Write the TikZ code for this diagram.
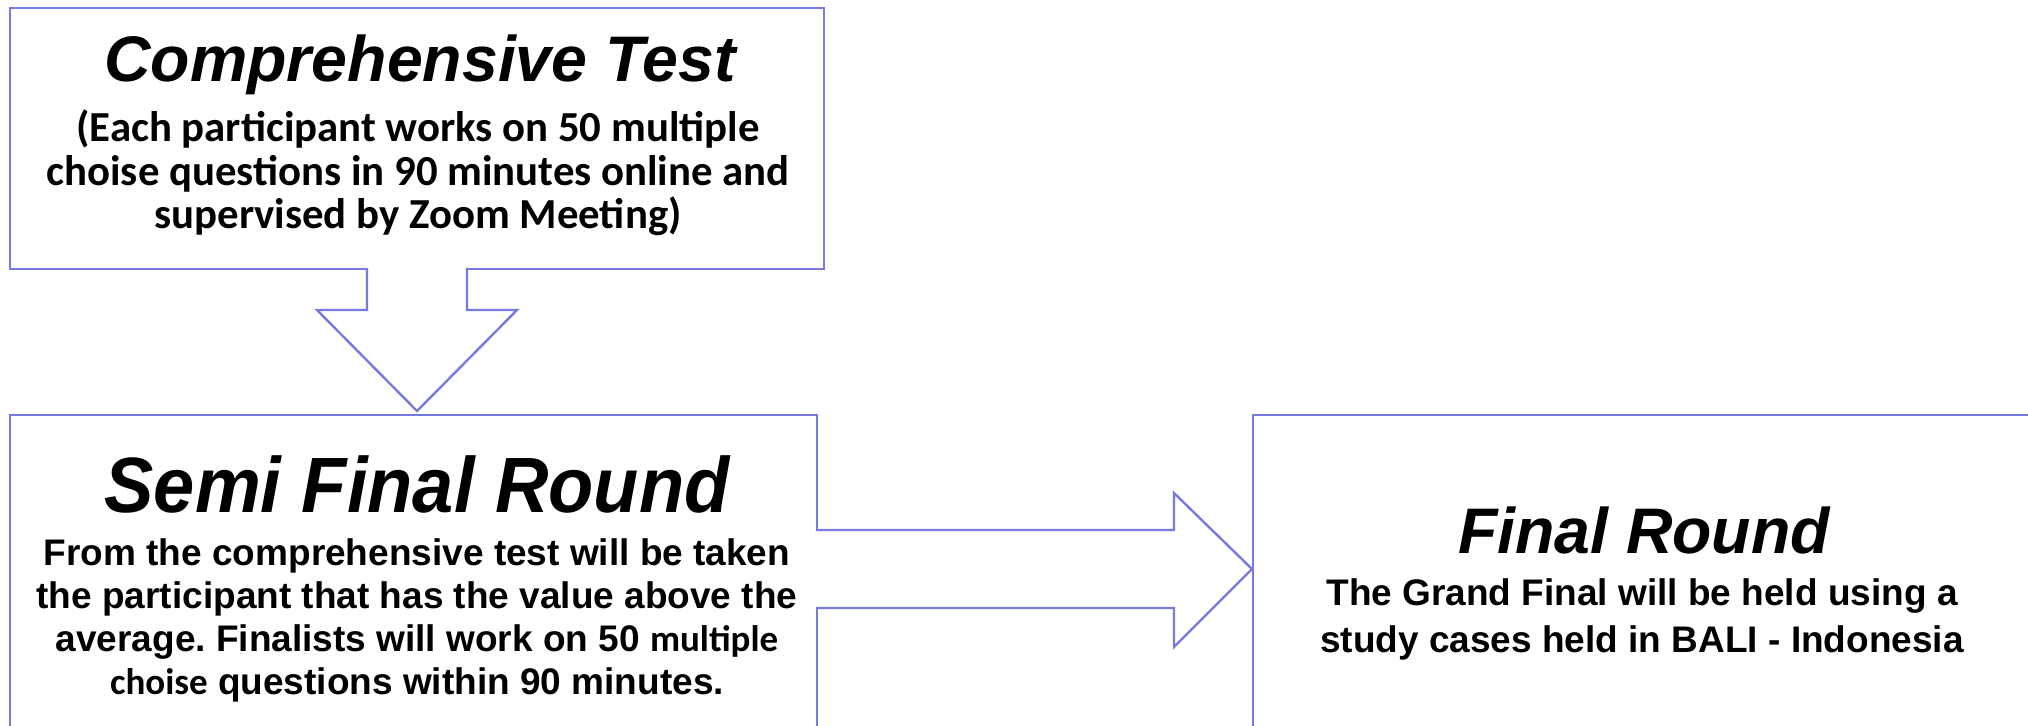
\documentclass[tikz,border=0pt]{standalone}
\usepackage{fontspec}
\usepackage{graphicx}
\setmainfont{Liberation Sans}
\newfontfamily\carl{Carlito}
\usetikzlibrary{calc}
\definecolor{bord}{RGB}{118,122,226}
\frenchspacing
\begin{document}
\begin{tikzpicture}[x=0.5pt,y=-0.5pt,
  box/.style={draw=bord, line width=1.2pt, inner sep=0pt, outer sep=0pt, anchor=north west},
  arrowfill/.style={fill=white, draw=none},
  arrowline/.style={draw=bord, line width=1.2pt, line join=miter},
  ttl/.style={font=\fontsize{32.2}{36}\selectfont\bfseries\itshape, inner sep=0pt, anchor=base},
  bodyA/.style={font=\fontsize{18.5}{22}\selectfont\bfseries, inner sep=0pt, anchor=base},
  bodyC/.style={font=\carl\fontsize{21.4}{24}\selectfont\bfseries, inner sep=0pt, anchor=base}]
\useasboundingbox (0,0) rectangle (2028,725);
\clip (0,0) rectangle (2028,725);
% boxes
\node[box, minimum width=407pt, minimum height=130.5pt] (b1) at (10,8) {};
\node[box, minimum width=403.5pt, minimum height=172.5pt] (b2) at (10,415) {};
\node[box, minimum width=403.5pt, minimum height=172.5pt] (b3) at (1253,415) {};
% down block arrow
\coordinate (dtip) at ($(b1.south |- b2.north)+(0,-4)$);
\fill[arrowfill] ($(b1.south)+(-50,-3)$) -- ($(b1.south)+(-50,41)$) -- ($(b1.south)+(-100,41)$) -- (dtip)
  -- ($(b1.south)+(100,41)$) -- ($(b1.south)+(50,41)$) -- ($(b1.south)+(50,-3)$) -- cycle;
\draw[arrowline] ($(b1.south)+(-50,-1.2)$) -- ($(b1.south)+(-50,41)$) -- ($(b1.south)+(-100,41)$) -- (dtip)
  -- ($(b1.south)+(100,41)$) -- ($(b1.south)+(50,41)$) -- ($(b1.south)+(50,-1.2)$);
% right block arrow
\coordinate (rtip) at ($(b3.north west)+(-1,154)$);
\fill[arrowfill] ($(b2.north east)+(-3,115)$) -- ($(rtip)+(-78,-39)$) -- ($(rtip)+(-78,-76)$) -- (rtip)
  -- ($(rtip)+(-78,78)$) -- ($(rtip)+(-78,39)$) -- ($(b2.north east)+(-3,193)$) -- cycle;
\draw[arrowline] ($(b2.north east)+(-1.2,115)$) -- ($(rtip)+(-78,-39)$) -- ($(rtip)+(-78,-76)$) -- (rtip)
  -- ($(rtip)+(-78,78)$) -- ($(rtip)+(-78,39)$) -- ($(b2.north east)+(-1.2,193)$);
% box 1 text
\node[ttl] (t1) at (420,81) {Comprehensive Test};
\node[bodyC] (t1a) at (418,141) {(Each participant works on 50 multiple};
\node[bodyC] (t1b) at (418,185) {choise questions in 90 minutes online and};
\node[bodyC] (t1c) at (418,228) {supervised by Zoom Meeting)};
% box 2 text
\node[ttl, font=\fontsize{37}{42}\selectfont\bfseries\itshape] (t2) at (417,512) {\scalebox{1}[1.06]{Semi Final Round}};
\node[bodyA] (t2a) at (417,565) {From the comprehensive test will be taken};
\node[bodyA] (t2b) at (417,608) {the participant that has the value above the};
\node[bodyA] (t2c) at (417,651) {average. Finalists will work on 50 {\carl multiple}};
\node[bodyA] (t2d) at (417,694) {{\carl choise} questions within 90 minutes.};
% box 3 text
\node[ttl] (t3) at (1644,553) {Final Round};
\node[bodyA] (t3a) at (1642,605) {The Grand Final will be held using a};
\node[bodyA] (t3b) at (1642,652) {study cases held in BALI - Indonesia};
\end{tikzpicture}
\end{document}
